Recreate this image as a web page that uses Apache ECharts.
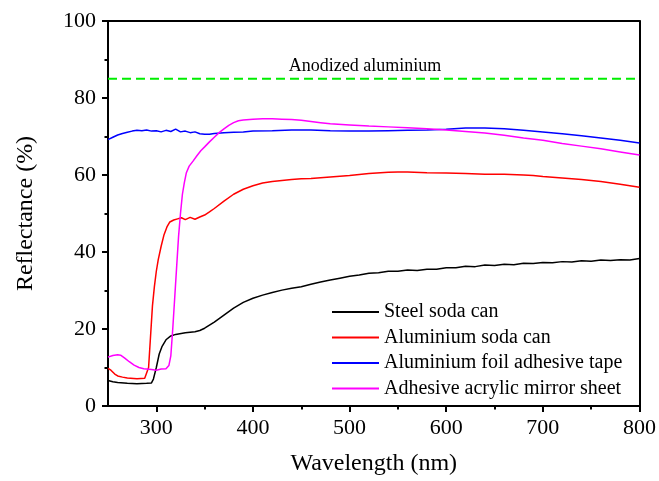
<!DOCTYPE html>
<html>
<head>
<meta charset="utf-8">
<script src="https://cdn.jsdelivr.net/npm/echarts@6/dist/echarts.min.js"></script>
<style>
html,body{margin:0;padding:0;background:#fff;}
#chart{width:659px;height:481px;}
</style>
</head>
<body>
<div id="chart"></div>
<script>
// Wavelength (nm), reflectance (%)
const steelSodaCan = [
[250,6.6],[255,6.3],[260,6.1],[270,5.9],[280,5.8],[290,5.9],[295,6.0],[297,7.0],[300,10.0],[303,13.5],[306,15.5],[310,17.2],[315,18.2],[320,18.6],[330,19.0],[340,19.3],[345,19.6],[350,20.2],[355,21.0],[360,21.8],[370,23.6],[380,25.4],[390,26.9],[400,28.0],[410,28.8],[420,29.5],[430,30.1],[440,30.6],[450,31.0],[460,31.6],[470,32.2],[480,32.7],[490,33.2],[500,33.7],[510,34.0],[520,34.5],[530,34.6],[540,35.0],[550,35.0],[560,35.3],[570,35.2],[580,35.5],[590,35.5],[600,35.9],[610,35.9],[620,36.3],[630,36.2],[640,36.6],[650,36.5],[660,36.8],[670,36.7],[680,37.1],[690,37.0],[700,37.3],[710,37.2],[720,37.5],[730,37.4],[740,37.7],[750,37.6],[760,37.9],[770,37.8],[780,38.0],[790,37.9],[800,38.3]
];
const aluminiumSodaCan = [
[250,9.8],[253,9.3],[257,8.3],[260,7.8],[265,7.5],[270,7.3],[280,7.1],[288,7.2],[290,7.6],[292,10],[294,18],[296,26],[298,31],[300,35],[302,38],[305,41.5],[308,44.5],[311,46.5],[314,47.8],[318,48.3],[322,48.6],[326,48.9],[330,48.4],[335,49.0],[340,48.5],[345,49.1],[350,49.6],[355,50.4],[360,51.3],[370,53.2],[380,55.0],[390,56.3],[400,57.2],[410,57.9],[420,58.3],[430,58.6],[440,58.8],[450,59.0],[460,59.1],[480,59.5],[500,59.9],[520,60.4],[540,60.7],[550,60.8],[560,60.8],[580,60.6],[600,60.5],[620,60.4],[640,60.2],[660,60.2],[680,60.0],[690,59.9],[700,59.6],[720,59.2],[740,58.8],[760,58.3],[780,57.6],[790,57.2],[800,56.8]
];
const foilTape = [
[250,69.2],[255,69.8],[260,70.4],[265,70.8],[270,71.1],[275,71.4],[280,71.6],[285,71.5],[290,71.7],[295,71.4],[300,71.5],[305,71.2],[310,71.6],[315,71.3],[320,71.9],[325,71.2],[330,71.4],[335,71.0],[340,71.2],[345,70.7],[350,70.6],[355,70.6],[360,70.8],[370,71.0],[380,71.1],[390,71.2],[400,71.4],[420,71.5],[440,71.7],[460,71.7],[480,71.5],[500,71.4],[520,71.4],[540,71.5],[560,71.6],[580,71.7],[600,71.9],[620,72.2],[640,72.2],[660,72.0],[680,71.6],[700,71.2],[720,70.7],[740,70.2],[760,69.6],[780,69.0],[800,68.3]
];
const mirrorSheet = [
[250,12.7],[255,13.1],[260,13.3],[263,13.2],[267,12.5],[272,11.5],[277,10.6],[282,10.0],[287,9.7],[295,9.5],[300,9.3],[305,9.6],[310,9.7],[313,10.5],[315,13],[317,20],[319,28],[321,36],[323,44],[325,50],[327,55],[329,58],[331,60.5],[334,62.3],[338,63.6],[342,65.0],[346,66.3],[350,67.3],[355,68.6],[360,69.8],[365,71.0],[370,72.0],[375,72.9],[380,73.6],[385,74.1],[390,74.3],[400,74.5],[410,74.6],[420,74.6],[430,74.5],[440,74.4],[450,74.2],[460,73.9],[470,73.6],[480,73.3],[500,73.0],[520,72.7],[540,72.5],[560,72.3],[580,72.0],[600,71.7],[620,71.3],[640,70.9],[660,70.3],[680,69.6],[700,69.0],[720,68.2],[740,67.5],[760,66.8],[780,66.0],[800,65.2]
];
const anodized = [[250,85],[800,85]];
const anodizedLabelAt = [516,85];
const seriesNames = ['Steel soda can','Aluminium soda can','Aluminium foil adhesive tape','Adhesive acrylic mirror sheet'];
const seriesColors = ['#000000','#ff0000','#0000ff','#ff00ff'];
const seriesData = [steelSodaCan, aluminiumSodaCan, foilTape, mirrorSheet];
const xMin = 250, xMax = 800;
const xMajorTicks = [300,400,500,600,700,800];
const xMinorTicks = [350,450,550,650,750];
const yMin = 0, yMax = 100, yInterval = 20;

const font = 'Liberation Serif';
const chart = echarts.init(document.getElementById('chart'), null, {renderer:'canvas'});

const series = seriesNames.map((n,i)=>({
  name:n, type:'line', data:seriesData[i], symbol:'none', showSymbol:false,
  lineStyle:{color:seriesColors[i], width:1.5}, itemStyle:{color:seriesColors[i]},
  animation:false, z:3
}));
series.push({
  name:'Anodized aluminium', type:'line', data:anodized, symbol:'none',
  lineStyle:{color:'#00ee00', width:2, type:[9,5]}, itemStyle:{color:'#00ee00'},
  animation:false,
  markPoint:{
    symbol:'circle', symbolSize:0, animation:false,
    data:[{coord:anodizedLabelAt, value:'Anodized aluminium'}],
    label:{show:true, position:'top', distance:3, formatter:'Anodized aluminium',
      fontFamily:font, fontSize:18, color:'#000'}
  }
});

chart.setOption({
  backgroundColor:'#fff',
  animation:false,
  grid:{left:108, right:18, top:21, bottom:71},
  legend:{
    data:seriesNames.map(n=>({name:n, icon:'rect'})), orient:'vertical', left:327, top:297,
    itemWidth:47, itemHeight:2, itemGap:5.5,
    textStyle:{fontFamily:font, fontSize:20, color:'#000', lineHeight:20},
    selectedMode:false
  },
  xAxis:[{
    type:'value', min:xMin, max:xMax, interval:50,
    name:'Wavelength (nm)', nameLocation:'middle', nameGap:46,
    nameTextStyle:{fontFamily:font, fontSize:24, color:'#000'},
    axisLine:{lineStyle:{color:'#000', width:2}},
    axisTick:{show:true, length:6, customValues:xMajorTicks, lineStyle:{color:'#000', width:2}},
    axisLabel:{fontFamily:font, fontSize:22, color:'#000', margin:11, customValues:xMajorTicks},
    splitLine:{show:false}
  },{
    type:'value', position:'bottom', min:xMin, max:xMax, interval:50,
    axisLine:{show:false},
    axisTick:{show:true, length:3.5, customValues:xMinorTicks, lineStyle:{color:'#000', width:2}},
    axisLabel:{show:false}, splitLine:{show:false}
  },{
    type:'value', position:'top', min:xMin, max:xMax,
    axisLine:{show:true, lineStyle:{color:'#000', width:2}},
    axisTick:{show:false}, axisLabel:{show:false}, splitLine:{show:false}
  }],
  yAxis:[{
    type:'value', min:yMin, max:yMax, interval:yInterval,
    name:'Reflectance (%)', nameLocation:'middle', nameGap:70, nameRotate:90,
    nameTextStyle:{fontFamily:font, fontSize:24, color:'#000'},
    axisLine:{show:true, lineStyle:{color:'#000', width:2}},
    axisTick:{show:true, length:6, lineStyle:{color:'#000', width:2}},
    minorTick:{show:true, splitNumber:2, length:3.5, lineStyle:{color:'#000', width:2}},
    axisLabel:{fontFamily:font, fontSize:22, color:'#000', margin:12},
    splitLine:{show:false}
  },{
    type:'value', position:'right', min:yMin, max:yMax,
    axisLine:{show:true, lineStyle:{color:'#000', width:2}},
    axisTick:{show:false}, axisLabel:{show:false}, splitLine:{show:false}
  }],
  series:series
});
</script>
</body>
</html>
